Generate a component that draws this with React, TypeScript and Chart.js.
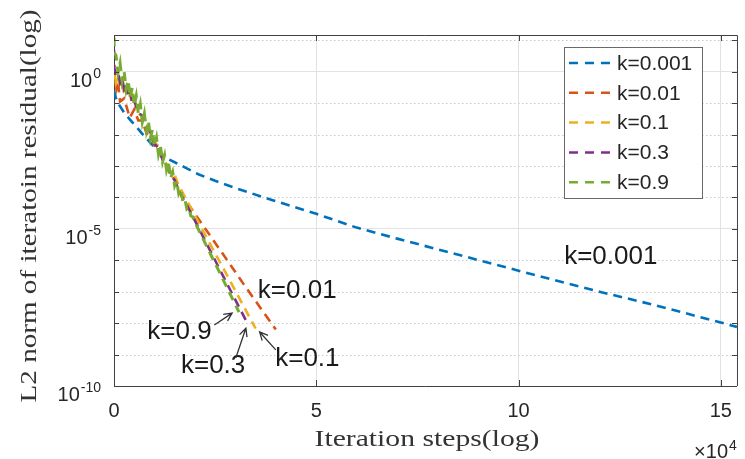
import React, { useEffect, useRef } from "react";
import { Chart, registerables } from "chart.js";

Chart.register(...registerables);

// ---------------- data (x = iteration steps, y given as log10 of residual) ----------------
const seriesLabels = ["k=0.001", "k=0.01", "k=0.1", "k=0.3", "k=0.9"];
const seriesColors = ["#0072BD", "#D95319", "#EDB120", "#7E2F8E", "#77AC30"];

const xK0001 = [0, 500, 1000, 2500, 4000, 5500, 7500, 10000, 12500, 15000, 17500, 21000, 25000, 30000, 39000, 50000, 60000, 70000, 80000, 90000, 100000, 110000, 120000, 130000, 140000, 150000, 154000];
const logK0001 = [-0.6, -0.85, -1.0, -1.3, -1.53, -1.75, -2.05, -2.4, -2.72, -2.88, -3.04, -3.27, -3.47, -3.7, -4.08, -4.52, -4.96, -5.31, -5.65, -5.99, -6.33, -6.67, -7.0, -7.31, -7.64, -7.98, -8.12];

const xK001 = [300, 600, 1000, 1500, 2500, 3900, 5000, 6000, 7000, 8000, 9000, 10000, 11000, 12000, 13000, 14000, 15000, 16000, 17000, 20000, 24000, 28000, 32000, 36000, 40000];
const logK001 = [-0.3, -0.55, -0.35, -0.95, -0.85, -1.46, -1.2, -1.55, -1.55, -1.95, -2.0, -2.35, -2.45, -2.75, -2.95, -3.25, -3.45, -3.72, -3.95, -4.52, -5.26, -6.0, -6.75, -7.48, -8.2];

const xK01 = [200, 500, 1000, 1500, 2000, 2500, 3000, 3500, 4000, 4500, 5000, 6000, 7000, 8000, 9000, 10000, 11000, 12000, 13000, 14000, 15000, 16000, 18000, 20000, 24000, 28000, 32000, 35000];
const logK01 = [-0.1, -0.35, -0.15, -0.5, -0.38, -0.7, -0.5, -0.85, -0.72, -1.05, -0.95, -1.32, -1.43, -1.8, -1.9, -2.27, -2.35, -2.72, -2.8, -3.2, -3.28, -3.62, -4.1, -4.58, -5.54, -6.49, -7.45, -8.17];

const xK03 = [0, 100, 500, 1000, 1500, 2000, 2500, 3000, 3500, 4000, 4500, 5000, 6000, 7000, 8000, 9000, 10000, 11000, 12000, 13000, 14000, 15000, 16000, 18000, 20000, 24000, 28000, 30000, 32800];
const logK03 = [0.7, 0.1, -0.05, 0.0, -0.35, -0.2, -0.55, -0.4, -0.78, -0.66, -1.0, -0.9, -1.3, -1.4, -1.8, -1.92, -2.3, -2.42, -2.8, -2.93, -3.3, -3.44, -3.8, -4.24, -4.74, -5.75, -6.76, -7.26, -7.96];

const xK09 = [0, 100, 500, 1000, 1500, 2000, 2500, 3000, 3500, 4000, 4500, 5000, 5500, 6000, 6500, 7000, 7500, 8000, 8500, 9000, 9500, 10000, 10500, 11000, 11500, 12000, 12500, 13000, 13500, 14000, 14500, 15000, 15500, 16000, 16500, 17000, 17500, 18000, 18500, 19000, 19500, 20000, 22000, 24000, 26000, 28000, 30000, 30900];
const logK09 = [1.1, 0.6, 0.52, -0.03, 0.28, -0.29, 0.02, -0.56, -0.27, -0.82, -0.51, -1.08, -0.77, -1.32, -1.03, -1.6, -1.32, -1.87, -1.56, -2.11, -1.84, -2.37, -2.1, -2.63, -2.38, -2.87, -2.65, -3.14, -2.93, -3.38, -3.19, -3.63, -3.47, -3.88, -3.75, -4.12, -4.04, -4.37, -4.32, -4.59, -4.62, -4.79, -5.31, -5.84, -6.36, -6.89, -7.41, -7.65];

const seriesX = [xK0001, xK001, xK01, xK03, xK09];
const seriesLog = [logK0001, logK001, logK01, logK03, logK09];
const seriesWidth = [2.6, 2.6, 2.6, 2.6, 3];

// axes
const xMin = 0;
const xMax = 154000;
const xTicks = [0, 50000, 100000, 150000];
const xTickLabels = ["0", "5", "10", "15"];
const yMinExp = -10;
const yMaxExp = 1.17;
const yMajorExp = [0, -5, -10];
const yMinorExp = [1, -1, -2, -3, -4, -6, -7, -8, -9];
const yTickExpLabels = ["0", "-5", "-10"];

// annotations (data coordinates: x in steps, y as log10)
const annText = ["k=0.001", "k=0.01", "k=0.9", "k=0.3", "k=0.1"];
const annX = [122800, 45300, 16200, 24500, 47800];
const annLog = [-5.9, -6.97, -8.28, -9.37, -9.14];
const arrowTailX = [24800, 30100, 40000];
const arrowTailLog = [-8.06, -9.11, -8.85];
const arrowHeadX = [29200, 32600, 36000];
const arrowHeadLog = [-7.68, -8.16, -8.28];

const xTitle = "Iteration steps(log)";
const yTitle = "L2 norm of iteratoin residual(log)";

const SANS = '"Liberation Sans", Arial, sans-serif';
const SERIF = '"Liberation Serif", "Times New Roman", serif';
const TEXT = "#262626";
const AXIS = "#404040";

function drawStretched(ctx: CanvasRenderingContext2D, text: string, cx: number, cy: number, target: number) {
  const w = ctx.measureText(text).width;
  const s = target / w;
  ctx.save();
  ctx.translate(cx, cy);
  ctx.scale(s, 1);
  ctx.textAlign = "center";
  ctx.fillText(text, 0, 0);
  ctx.restore();
}

const overlayPlugin = {
  id: "overlay",
  beforeDatasetsDraw(chart: any) {
    const { ctx, chartArea: a, scales } = chart;
    const ys = scales.y;
    ctx.save();
    ctx.strokeStyle = "#c9c9c9";
    ctx.lineWidth = 1;
    ctx.setLineDash([1.5, 2.5]);
    for (const e of yMinorExp) {
      const py = Math.round(ys.getPixelForValue(Math.pow(10, e))) + 0.5;
      ctx.beginPath();
      ctx.moveTo(a.left, py);
      ctx.lineTo(a.right, py);
      ctx.stroke();
    }
    ctx.restore();
  },
  afterDatasetsDraw(chart: any) {
    const { ctx, chartArea: a, scales } = chart;
    const xs = scales.x;
    const ys = scales.y;
    ctx.save();
    ctx.strokeStyle = AXIS;
    ctx.lineWidth = 1;
    ctx.setLineDash([]);
    ctx.beginPath();
    ctx.moveTo(a.left, a.top + 0.5);
    ctx.lineTo(a.right + 0.5, a.top + 0.5);
    ctx.lineTo(a.right + 0.5, a.bottom);
    ctx.stroke();
    ctx.beginPath();
    for (const v of xTicks) {
      const px = Math.round(xs.getPixelForValue(v)) + 0.5;
      ctx.moveTo(px, a.bottom);
      ctx.lineTo(px, a.bottom - 6);
      ctx.moveTo(px, a.top);
      ctx.lineTo(px, a.top + 6);
    }
    for (let e = -10; e <= 1; e++) {
      const py = Math.round(ys.getPixelForValue(Math.pow(10, e))) + 0.5;
      ctx.moveTo(a.left, py);
      ctx.lineTo(a.left + 5, py);
      ctx.moveTo(a.right, py);
      ctx.lineTo(a.right - 5, py);
    }
    ctx.stroke();
    ctx.restore();
  },
  afterDraw(chart: any) {
    const { ctx, chartArea: a, scales } = chart;
    const xs = scales.x;
    const ys = scales.y;
    const px = (v: number) => xs.getPixelForValue(v);
    const py = (e: number) => ys.getPixelForValue(Math.pow(10, e));
    ctx.save();
    ctx.fillStyle = TEXT;

    yMajorExp.forEach((e, i) => {
      const y = py(e);
      const sup = yTickExpLabels[i];
      ctx.font = `14px ${SANS}`;
      const supW = ctx.measureText(sup).width;
      const right = 101;
      ctx.textAlign = "left";
      ctx.textBaseline = "alphabetic";
      ctx.fillText(sup, right - supW, y + 6);
      ctx.font = `20px ${SANS}`;
      ctx.textAlign = "right";
      ctx.fillText("10", right - supW - 1, y + 15);
    });

    ctx.font = `20px ${SANS}`;
    ctx.textAlign = "right";
    ctx.textBaseline = "alphabetic";
    ctx.fillText("\u00d710", 728, 458);
    ctx.font = `14px ${SANS}`;
    ctx.textAlign = "left";
    ctx.fillText("4", 729, 450);

    ctx.fillStyle = "#333333";
    ctx.font = `24px ${SERIF}`;
    ctx.textBaseline = "alphabetic";
    drawStretched(ctx, xTitle, 427, 446, 225);
    ctx.save();
    ctx.translate(36, 206);
    ctx.rotate(-Math.PI / 2);
    drawStretched(ctx, yTitle, 0, 0, 393);
    ctx.restore();

    ctx.fillStyle = "#1a1a1a";
    ctx.font = `26px ${SANS}`;
    ctx.textAlign = "center";
    ctx.textBaseline = "middle";
    annText.forEach((t, i) => {
      ctx.fillText(t, px(annX[i]), py(annLog[i]));
    });

    ctx.strokeStyle = "#333333";
    ctx.lineWidth = 1.3;
    arrowTailX.forEach((_, i) => {
      const x0 = px(arrowTailX[i]);
      const y0 = py(arrowTailLog[i]);
      const x1 = px(arrowHeadX[i]);
      const y1 = py(arrowHeadLog[i]);
      const ang = Math.atan2(y1 - y0, x1 - x0);
      const L = 9;
      ctx.beginPath();
      ctx.moveTo(x0, y0);
      ctx.lineTo(x1, y1);
      ctx.moveTo(x1 - L * Math.cos(ang - 0.45), y1 - L * Math.sin(ang - 0.45));
      ctx.lineTo(x1, y1);
      ctx.lineTo(x1 - L * Math.cos(ang + 0.45), y1 - L * Math.sin(ang + 0.45));
      ctx.stroke();
    });

    const bw = 138;
    const bh = 151;
    const bx = a.right - 35 - bw;
    const by = a.top + 12;
    ctx.fillStyle = "#ffffff";
    ctx.fillRect(bx, by, bw, bh);
    ctx.strokeStyle = "#6a6a6a";
    ctx.lineWidth = 1;
    ctx.setLineDash([]);
    ctx.strokeRect(Math.round(bx) + 0.5, Math.round(by) + 0.5, bw, bh);
    seriesLabels.forEach((lab, i) => {
      const cy = by + 16 + i * 29.8;
      ctx.strokeStyle = seriesColors[i];
      ctx.lineWidth = 2.5;
      ctx.setLineDash([9, 7]);
      ctx.beginPath();
      ctx.moveTo(bx + 5, cy);
      ctx.lineTo(bx + 52, cy);
      ctx.stroke();
      ctx.setLineDash([]);
      ctx.fillStyle = TEXT;
      ctx.font = `21px ${SANS}`;
      ctx.textAlign = "left";
      ctx.textBaseline = "middle";
      ctx.fillText(lab, bx + 53, cy + 1);
    });
    ctx.restore();
  },
};

export default function App() {
  const canvasRef = useRef<HTMLCanvasElement | null>(null);

  useEffect(() => {
    const canvas = canvasRef.current;
    if (!canvas) return;
    const order = [4, 3, 2, 1, 0];
    const datasets = seriesLabels.map((label, i) => ({
      label,
      data: seriesX[i].map((x, j) => ({ x, y: Math.pow(10, seriesLog[i][j]) })),
      borderColor: seriesColors[i],
      backgroundColor: seriesColors[i],
      borderWidth: seriesWidth[i],
      borderDash: [9, 6],
      pointRadius: 0,
      tension: 0,
      fill: false,
      order: order[i],
    }));

    const chart = new Chart(canvas, {
      type: "line",
      data: { datasets },
      options: {
        animation: false,
        responsive: false,
        events: [],
        layout: { padding: { left: 0, right: 3, top: 35, bottom: 0 } },
        plugins: {
          legend: { display: false },
          tooltip: { enabled: false },
        },
        scales: {
          x: {
            type: "linear",
            min: xMin,
            max: xMax,
            afterBuildTicks: (s: any) => {
              s.ticks = xTicks.map((v) => ({ value: v }));
            },
            afterFit: (s: any) => {
              s.height = 73;
            },
            ticks: {
              autoSkip: false,
              maxRotation: 0,
              padding: 13,
              color: TEXT,
              font: { family: SANS, size: 20 },
              callback: (v: any) => {
                const k = xTicks.indexOf(Number(v));
                return k >= 0 ? xTickLabels[k] : "";
              },
            },
            grid: { color: "#e2e2e2", lineWidth: 1, drawTicks: false },
            border: { color: AXIS, width: 1 },
          },
          y: {
            type: "logarithmic",
            min: Math.pow(10, yMinExp),
            max: Math.pow(10, yMaxExp),
            afterBuildTicks: (s: any) => {
              s.ticks = yMajorExp.map((e) => ({ value: Math.pow(10, e) }));
            },
            afterFit: (s: any) => {
              s.width = 114;
            },
            ticks: { display: false },
            grid: { color: "#e2e2e2", lineWidth: 1, drawTicks: false },
            border: { color: AXIS, width: 1 },
          },
        },
      } as any,
      plugins: [overlayPlugin],
    });
    return () => chart.destroy();
  }, []);

  return (
    <div style={{ position: "absolute", left: 0, top: 0, width: 745, height: 459, background: "#ffffff" }}>
      <canvas ref={canvasRef} width={745} height={459} style={{ display: "block" }} />
    </div>
  );
}
